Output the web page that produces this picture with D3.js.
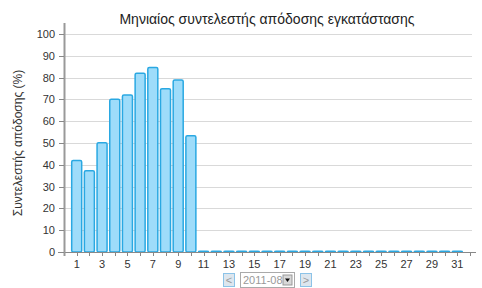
<!DOCTYPE html>
<html>
<head>
<meta charset="utf-8">
<script src="https://cdn.jsdelivr.net/npm/d3@7"></script>
<style>
  html, body { margin: 0; padding: 0; background: #fff; }
  svg { display: block; font-family: "Liberation Sans", Arial, sans-serif; }
</style>
</head>
<body>
<div id="chart"></div>
<script>
// ── Data ────────────────────────────────────────────────────────────────
var days = d3.range(1, 32);
var values = [42, 37.3, 50.1, 70, 72, 82, 84.6, 74.8, 78.9, 53.3,
              0.4, 0.4, 0.4, 0.4, 0.4, 0.4, 0.4, 0.4, 0.4, 0.4,
              0.4, 0.4, 0.4, 0.4, 0.4, 0.4, 0.4, 0.4, 0.4, 0.4, 0.4];
var yTicks = [0, 10, 20, 30, 40, 50, 60, 70, 80, 90, 100];
var xTickLabels = days.filter(function (d) { return d % 2 === 1; });
var title = "Μηνιαίος συντελεστής απόδοσης εγκατάστασης";
var yLabel = "Συντελεστής απόδοσης (%)";
var monthLabel = "2011-08";

var W = 482, H = 288;
var svg = d3.select("#chart").append("svg").attr("width", W).attr("height", H);

var x = d3.scaleLinear().domain([0, 32]).range([64, 470]);
var y = d3.scaleLinear().domain([0, 105]).range([252, 23]);

// ── Grid ────────────────────────────────────────────────────────────────
svg.append("g").selectAll("line")
  .data(yTicks.filter(function (t) { return t > 0; }))
  .join("line")
  .attr("x1", 64).attr("x2", 472)
  .attr("y1", function (d) { return Math.round(y(d)) + 0.5; })
  .attr("y2", function (d) { return Math.round(y(d)) + 0.5; })
  .attr("stroke", "#d9d9d9").attr("stroke-width", 1);

// ── Bars ────────────────────────────────────────────────────────────────
var bw = 10;
svg.append("g").selectAll("rect")
  .data(values)
  .join("rect")
  .attr("x", function (d, i) { return x(days[i]) - bw / 2; })
  .attr("y", function (d) { return y(d); })
  .attr("width", bw)
  .attr("height", function (d) { return y(0) - y(d); })
  .attr("rx", 1.5)
  .attr("fill", "#9edcfa")
  .attr("stroke", "#2aa8e2")
  .attr("stroke-width", 1.5);

// ── X axis ──────────────────────────────────────────────────────────────
var xAxis = svg.append("g");
xAxis.append("line")
  .attr("x1", 58).attr("x2", 476).attr("y1", 252.5).attr("y2", 252.5)
  .attr("stroke", "#888").attr("stroke-width", 1);
xAxis.selectAll("line.tick")
  .data(d3.range(0, 33))
  .join("line").attr("class", "tick")
  .attr("x1", function (d) { return Math.round(x(d)) + 0.5; })
  .attr("x2", function (d) { return Math.round(x(d)) + 0.5; })
  .attr("y1", 252).attr("y2", 256)
  .attr("stroke", "#888");
xAxis.selectAll("text")
  .data(xTickLabels)
  .join("text")
  .attr("x", function (d) { return x(d); })
  .attr("y", 268)
  .attr("text-anchor", "middle")
  .attr("font-size", "11px")
  .attr("fill", "#333")
  .text(function (d) { return d; });

// ── Y axis ──────────────────────────────────────────────────────────────
var yAxis = svg.append("g");
yAxis.append("line")
  .attr("x1", 64.5).attr("x2", 64.5).attr("y1", 23).attr("y2", 256)
  .attr("stroke", "#999").attr("stroke-width", 2);
yAxis.selectAll("line.tick")
  .data(yTicks)
  .join("line").attr("class", "tick")
  .attr("x1", 59).attr("x2", 64)
  .attr("y1", function (d) { return Math.round(y(d)) + 0.5; })
  .attr("y2", function (d) { return Math.round(y(d)) + 0.5; })
  .attr("stroke", "#888");
yAxis.selectAll("text")
  .data(yTicks)
  .join("text")
  .attr("x", 55)
  .attr("y", function (d) { return y(d) + 4; })
  .attr("text-anchor", "end")
  .attr("font-size", "11px")
  .attr("fill", "#333")
  .text(function (d) { return d; });

// ── Titles ──────────────────────────────────────────────────────────────
svg.append("text")
  .attr("x", 267).attr("y", 24)
  .attr("text-anchor", "middle")
  .attr("font-size", "14px")
  .attr("fill", "#222")
  .text(title);

svg.append("text")
  .attr("transform", "translate(22,143) rotate(-90)")
  .attr("text-anchor", "middle")
  .attr("font-size", "12px")
  .attr("fill", "#333")
  .text(yLabel);

// ── Month navigation controls ───────────────────────────────────────────
var nav = svg.append("g").attr("font-size", "11px");
function navButton(x0, label) {
  nav.append("rect")
    .attr("x", x0 + 0.5).attr("y", 273.5).attr("width", 11).attr("height", 13)
    .attr("fill", "#dde6ee").attr("stroke", "#8cc3e8");
  nav.append("text")
    .attr("x", x0 + 6).attr("y", 284)
    .attr("text-anchor", "middle").attr("fill", "#999")
    .text(label);
}
navButton(223, "<");
navButton(300, ">");
nav.append("rect")
  .attr("x", 240.5).attr("y", 272.5).attr("width", 54).attr("height", 15)
  .attr("fill", "#fff").attr("stroke", "#aaa");
nav.append("text")
  .attr("x", 243).attr("y", 284)
  .attr("fill", "#999")
  .text(monthLabel);
nav.append("rect")
  .attr("x", 283).attr("y", 275).attr("width", 9).attr("height", 10)
  .attr("fill", "#d8d8d8").attr("stroke", "#999");
nav.append("path")
  .attr("d", "M285,278.5 L290,278.5 L287.5,282 Z")
  .attr("fill", "#111");
</script>
</body>
</html>
